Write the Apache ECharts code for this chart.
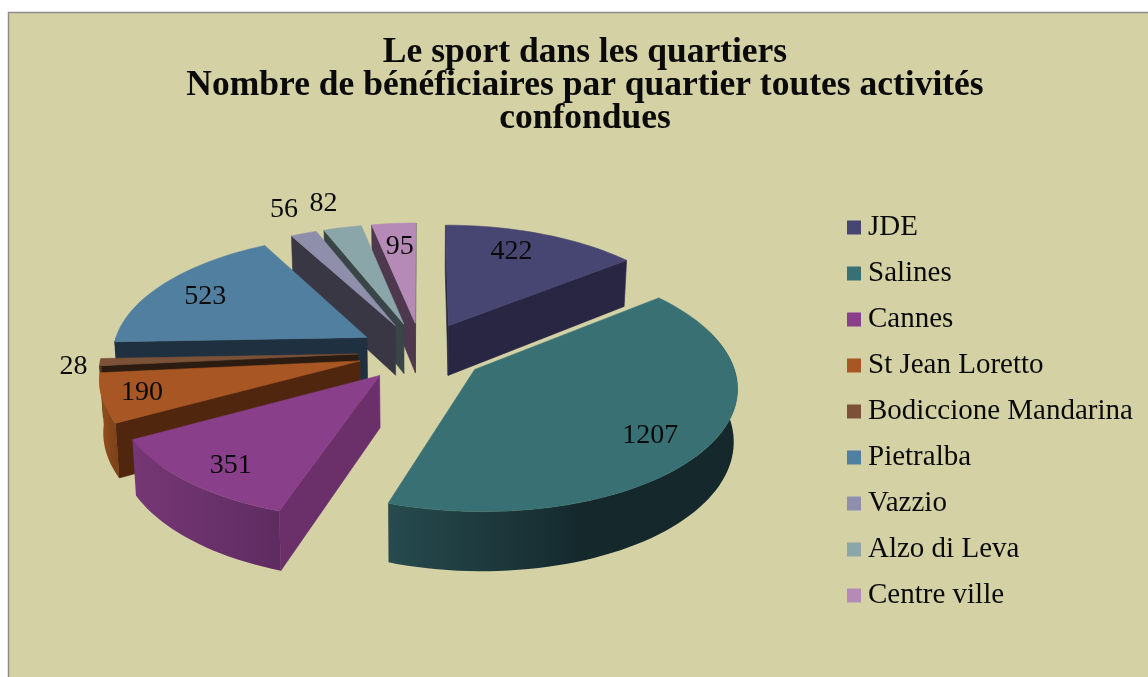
<!DOCTYPE html>
<html><head><meta charset="utf-8">
<style>html,body{margin:0;padding:0;background:#fff}#c{width:1148px;height:677px}</style>
<script src="https://cdn.jsdelivr.net/npm/echarts@6/dist/echarts.min.js"></script>
</head><body><div id="c"></div>
<script>
const titleLines = ['Le sport dans les quartiers','Nombre de bénéficiaires par quartier toutes activités','confondues'];
const categories = ['JDE','Salines','Cannes','St Jean Loretto','Bodiccione Mandarina','Pietralba','Vazzio','Alzo di Leva','Centre ville'];
const values = [422,1207,351,190,28,523,56,82,95];
const topColors = ['#474672','#387073','#893f8a','#a85724','#7b5137','#517f9f','#8f8fab','#8ba6a8','#b68ab7'];
const cutColors = ['#292643','#1a3336','#6b3069','#51260f','#2b1b10','#1f3040','#383743','#3a4547','#4d384d'];
const wallLeft  = ['#292643','#274b4e','#763775','#96501f','#5f3a22','#1f3040','#383743','#3a4547','#4d384d'];
const wallRight = ['#292643','#15292d','#5e2c61','#7a3f18','#4a2c1a','#1f3040','#383743','#3a4547','#4d384d'];
const labelRadius = [.765,.795,.83,.85,1.10,.775,1.29,1.295,.75];
const labelShift  = [-3.8,3.8,-2.2,0,-1.5,-1.6,.8,-.7,.4];

const CX=421.5, CY=352, RX=255, RY=119.5, K=.126, EXPLODE=.25, H=51, SHRINK=.988;
const total = values.reduce((a,b)=>a+b,0);
const rad = d=>d*Math.PI/180;
function project(X,Y,low){
  const f=1/(1-K*Y);
  let x=RX*X*f, y=RY*Y*f;
  if(low){ x*=SHRINK; y+=H*f; }
  return [CX+x, CY+y];
}
function slicePoint(th,r,mid,low){
  const X=r*Math.sin(rad(th))+EXPLODE*Math.sin(rad(mid));
  const Y=-r*Math.cos(rad(th))-EXPLODE*Math.cos(rad(mid));
  return project(X,Y,low);
}
function area(p){let s=0;for(let i=0;i<p.length;i++){const a=p[i],b=p[(i+1)%p.length];s+=a[0]*b[1]-b[0]*a[1];}return s;}

const starts=[];let acc=0;
values.forEach(v=>{starts.push(acc);acc+=v;});

function sliceAngles(i){
  const a0=starts[i]/total*360, a1=(starts[i]+values[i])/total*360, mid=(a0+a1)/2;
  return {a0,a1,mid};
}
const mids=values.map((_,i)=>-Math.cos(rad(sliceAngles(i).mid)));
const rank=mids.map((m,i)=>i).sort((a,b)=>mids[a]-mids[b]);

function renderSlice(i){
  const {a0,a1,mid}=sliceAngles(i);
  const children=[];
  const poly=(pts,fill)=>children.push({type:'polygon',shape:{points:pts},style:{fill,stroke:fill,lineWidth:.6}});
  const apexT=slicePoint(0,0,mid,false), apexB=slicePoint(0,0,mid,true);
  [[a0,-1],[a1,1]].forEach(([a,sign])=>{
    const q=[apexT,slicePoint(a,1,mid,false),slicePoint(a,1,mid,true),apexB];
    if(area(q)*sign>0) poly(q,cutColors[i]);
  });
  const w0=Math.max(a0,72), w1=Math.min(a1,270);
  if(w1>w0){
    const topArc=[],lowArc=[];
    const n=Math.max(4,Math.ceil((w1-w0)/2));
    for(let j=0;j<=n;j++){
      const a=w0+(w1-w0)*j/n;
      topArc.push(slicePoint(a,1,mid,false));
      lowArc.unshift(slicePoint(a,1,mid,true));
    }
    const grad=new echarts.graphic.LinearGradient(0,0,1,0,[
      {offset:0,color:wallLeft[i]},{offset:i===1?.55:1,color:wallRight[i]},{offset:1,color:wallRight[i]}]);
    children.push({type:'polygon',shape:{points:topArc.concat(lowArc)},style:{fill:grad}});
  }
  const top=[apexT];
  const n=Math.max(4,Math.ceil((a1-a0)/2));
  for(let j=0;j<=n;j++) top.push(slicePoint(a0+(a1-a0)*j/n,1,mid,false));
  poly(top,topColors[i]);
  const lp=slicePoint(mid+labelShift[i],labelRadius[i],mid,false);
  children.push({type:'text',z2:50,style:{text:String(values[i]),x:lp[0],y:lp[1],align:'center',verticalAlign:'middle',
    font:'28px "Liberation Serif"',fill:'#0a0a0a'}});
  return {type:'group',children};
}

const series=categories.map((name,i)=>({
  type:'custom',name,coordinateSystem:'none',silent:true,animation:false,
  z:2+rank.indexOf(i),
  itemStyle:{color:topColors[i]},
  data:[[values[i]]],
  renderItem:()=>renderSlice(i)
}));

const chart=echarts.init(document.getElementById('c'),null,{renderer:'canvas'});
chart.setOption({
  animation:false,
  backgroundColor:'#ffffff',
  graphic:[{type:'rect',z:-10,silent:true,shape:{x:8.5,y:12.5,width:1300,height:900},
    style:{fill:'#d4d1a5',stroke:'#8e8e8e',lineWidth:1.5}}],
  title:{text:titleLines.join('\n'),left:580,top:31,textAlign:'center',
    textStyle:{fontFamily:'"Liberation Serif"',fontWeight:'bold',fontSize:35.5,lineHeight:33,color:'#0a0a0a'}},
  legend:{data:categories,orient:'vertical',left:842,top:208,icon:'rect',itemWidth:14,itemHeight:14,itemGap:17,
    selectedMode:false,
    textStyle:{fontFamily:'"Liberation Serif"',fontSize:29,lineHeight:14,color:'#0a0a0a',padding:[0,0,0,2]}},
  series
});
</script></body></html>
